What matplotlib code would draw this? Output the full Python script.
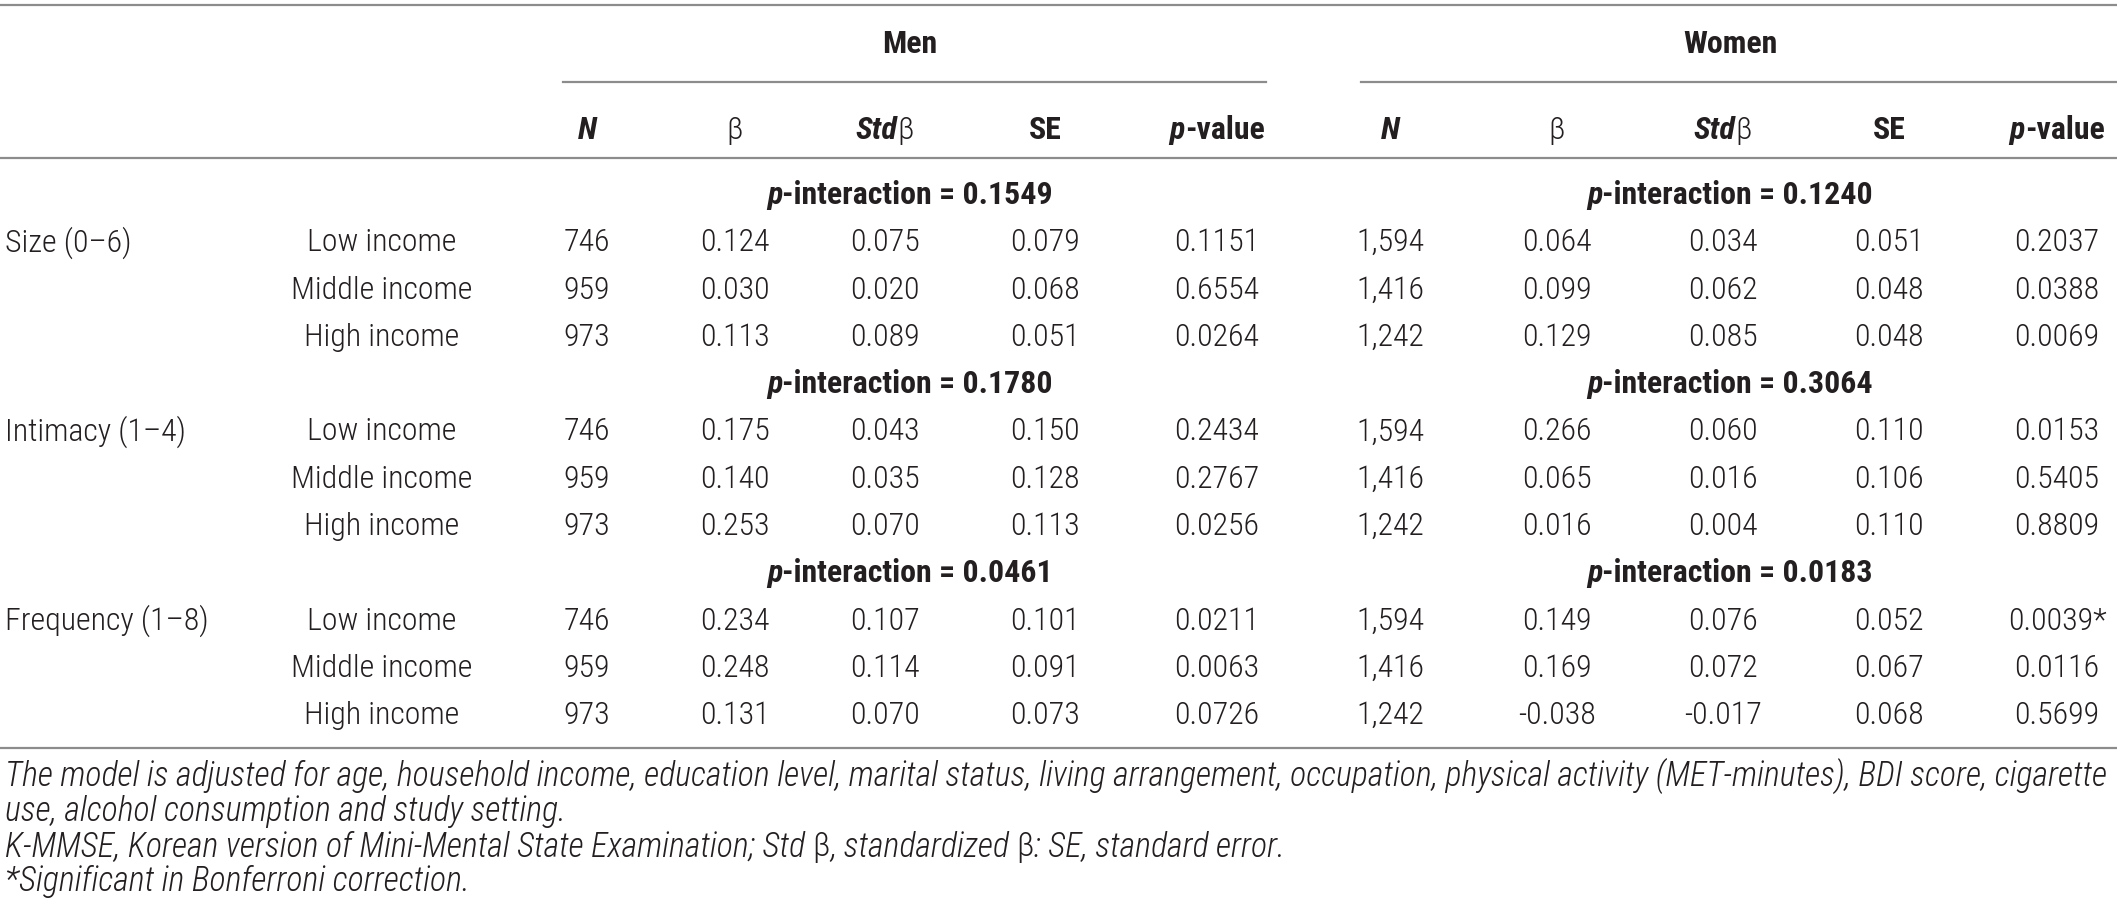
import matplotlib
matplotlib.use("Agg")
import matplotlib.pyplot as plt
from matplotlib import font_manager

# table content
categories = ["Size (0–6)", "Intimacy (1–4)", "Frequency (1–8)"]
incomes = ["Low income", "Middle income", "High income"]
p_int_men = ["0.1549", "0.1780", "0.0461"]
p_int_women = ["0.1240", "0.3064", "0.0183"]

men_n = ["746", "959", "973"]
men_beta = [["0.124", "0.030", "0.113"], ["0.175", "0.140", "0.253"], ["0.234", "0.248", "0.131"]]
men_std = [["0.075", "0.020", "0.089"], ["0.043", "0.035", "0.070"], ["0.107", "0.114", "0.070"]]
men_se = [["0.079", "0.068", "0.051"], ["0.150", "0.128", "0.113"], ["0.101", "0.091", "0.073"]]
men_p = [["0.1151", "0.6554", "0.0264"], ["0.2434", "0.2767", "0.0256"], ["0.0211", "0.0063", "0.0726"]]

women_n = ["1,594", "1,416", "1,242"]
women_beta = [["0.064", "0.099", "0.129"], ["0.266", "0.065", "0.016"], ["0.149", "0.169", "-0.038"]]
women_std = [["0.034", "0.062", "0.085"], ["0.060", "0.016", "0.004"], ["0.076", "0.072", "-0.017"]]
women_se = [["0.051", "0.048", "0.048"], ["0.110", "0.106", "0.110"], ["0.052", "0.067", "0.068"]]
women_p = [["0.2037", "0.0388", "0.0069"], ["0.0153", "0.5405", "0.8809"], ["0.0039*", "0.0116", "0.5699"]]

LIGHT = 300
footnotes = [
    [("The model is adjusted for age, household income, education level, marital status, living arrangement, "
      "occupation, physical activity (MET-minutes), BDI score, cigarette", LIGHT, "italic")],
    [("use, alcohol consumption and study setting.", LIGHT, "italic")],
    [("K-MMSE, Korean version of Mini-Mental State Examination; Std ", LIGHT, "italic"),
     ("β", LIGHT, "normal"), (", standardized ", LIGHT, "italic"),
     ("β", LIGHT, "normal"), (": SE, standard error.", LIGHT, "italic")],
    [("*Significant in Bonferroni correction.", LIGHT, "italic")],
]


def pick_font():
    # look for a condensed sans close to the reference typeface
    entries = font_manager.fontManager.ttflist
    prefs = [("Liberation Sans Narrow", None), ("Roboto Condensed", None),
             ("Noto Sans", "condensed"), ("Open Sans Condensed", None),
             ("Open Sans", "condensed"), ("Noto Sans", "semi-condensed"),
             ("DejaVu Sans", "condensed")]
    for name, stretch in prefs:
        for e in entries:
            if e.name == name and (stretch is None or e.stretch == stretch):
                return name, (stretch or "normal")
    return "Liberation Sans", "normal"


FONT, STRETCH = pick_font()
TXT = "#231f20"
LINE = "#8c8c8c"

W, H = 2117, 911
fig = plt.figure(figsize=(W / 100, H / 100), dpi=100)
ax = fig.add_axes([0, 0, 1, 1])
ax.set_xlim(0, W)
ax.set_ylim(H, 0)
ax.axis("off")
renderer = fig.canvas.get_renderer()


def measure(s, size, weight=LIGHT, style="normal"):
    t = ax.text(0, 0, s, fontsize=size, fontweight=weight, fontstyle=style,
                family=FONT, fontstretch=STRETCH)
    w = t.get_window_extent(renderer).width
    t.remove()
    return w


# body size chosen so "Middle income" is about as wide as in the reference
FS = 22 * 181 / measure("Middle income", 22)
FS = max(19, min(FS, 25))
FN = 22 * 2103 / measure(footnotes[0][0][0], 22, style="italic")


def rich(x, y, parts, ha="center", size=None):
    """Draw text pieces of mixed weight/style on one baseline."""
    size = size or FS
    texts = []
    for s, weight, style in parts:
        t = ax.text(0, y, s, fontsize=size, fontweight=weight, fontstyle=style,
                    family=FONT, fontstretch=STRETCH, color=TXT, ha="left", va="baseline")
        texts.append(t)
    widths = [t.get_window_extent(renderer).width for t in texts]
    start = x - sum(widths) / 2 if ha == "center" else x
    for t, w in zip(texts, widths):
        t.set_x(start)
        start += w


def cell(x, y, s, ha="center"):
    ax.text(x, y, s, fontsize=FS, fontweight=LIGHT, family=FONT, fontstretch=STRETCH,
            color=TXT, ha=ha, va="baseline")


# layout
BASE = 11
men_x = [587, 735, 885, 1045, 1217]
women_x = [1390, 1557, 1723, 1889, 2057]
cat_x = 5
inc_x = 382
row0, pitch = 193, 47.3

# rules
ax.plot([0, W], [5, 5], color=LINE, lw=1.6)
ax.plot([563, 1266], [82, 82], color=LINE, lw=1.6)
ax.plot([1361, W], [82, 82], color=LINE, lw=1.6)
ax.plot([0, W], [158, 158], color=LINE, lw=1.6)
ax.plot([0, W], [748, 748], color=LINE, lw=1.6)

# group headers
rich(910, 42 + BASE, [("Men", "bold", "normal")])
rich(1730, 42 + BASE, [("Women", "bold", "normal")])

col_heads = [
    [("N", "bold", "italic")],
    [("β", LIGHT, "normal")],
    [("Std", "bold", "italic"), ("β", LIGHT, "normal")],
    [("SE", "bold", "normal")],
    [("p", "bold", "italic"), ("-value", "bold", "normal")],
]
for xs in (men_x, women_x):
    for x, parts in zip(xs, col_heads):
        rich(x, 128 + BASE, parts)

# body
for i, cat in enumerate(categories):
    y = row0 + pitch * 4 * i + BASE
    rich(910, y, [("p", "bold", "italic"), ("-interaction = " + p_int_men[i], "bold", "normal")])
    rich(1730, y, [("p", "bold", "italic"), ("-interaction = " + p_int_women[i], "bold", "normal")])
    for j, inc in enumerate(incomes):
        y = row0 + pitch * (4 * i + 1 + j) + BASE
        if j == 0:
            cell(cat_x, y, cat, ha="left")
        cell(inc_x, y, inc)
        men_vals = [men_n[j], men_beta[i][j], men_std[i][j], men_se[i][j], men_p[i][j]]
        women_vals = [women_n[j], women_beta[i][j], women_std[i][j], women_se[i][j], women_p[i][j]]
        for x, v in zip(men_x, men_vals):
            cell(x, y, v)
        for x, v in zip(women_x, women_vals):
            cell(x, y, v)

# footnotes
for k, parts in enumerate(footnotes):
    rich(5, 775 + 35 * k + BASE, parts, ha="left", size=FN)

fig.savefig("out.png", dpi=100)
